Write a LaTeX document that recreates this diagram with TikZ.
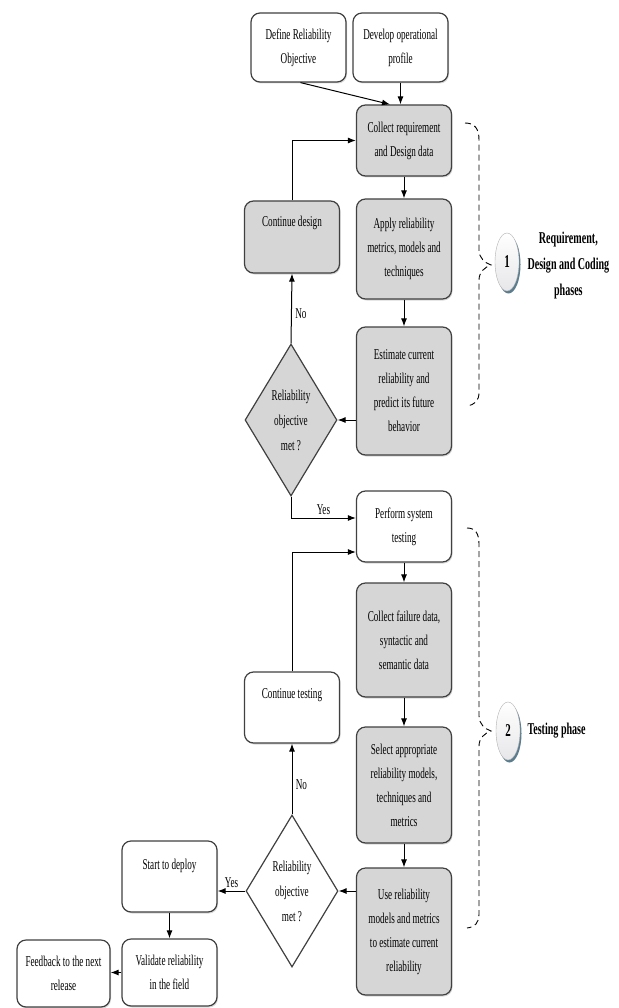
\documentclass[tikz,border=0pt]{standalone}
\usepackage{fontspec}
\setmainfont[FakeStretch=0.61]{Liberation Serif}
\usetikzlibrary{arrows.meta,calc,positioning,shapes.geometric,shadows}
\colorlet{boxgray}{black!16}
\colorlet{boxline}{black!75}
\colorlet{phaselight}{blue!6!gray!18}
\colorlet{phaserim}{cyan!45!black}

\begin{document}
\begin{tikzpicture}[x=1pt,y=-1pt,>={Latex[length=8pt,width=6pt]},
  box/.style={draw=boxline,line width=1.2pt,rounded corners=9pt,align=center,inner sep=0pt,
    font={\fontsize{15}{24}\selectfont},minimum width=95pt,
    drop shadow={opacity=0.3,shadow xshift=1pt,shadow yshift=-1.5pt}},
  graybox/.style={box,fill=boxgray},
  whitebox/.style={box,fill=white},
  decision/.style={diamond,draw=boxline,line width=1.2pt,aspect=0.6,inner sep=0pt,align=center,
    font={\fontsize{15}{25}\selectfont},minimum width=92pt,minimum height=152pt},
  flow/.style={->,line width=1pt},
  lbl/.style={font={\fontsize{15}{24}\selectfont}},
  phasebrace/.style={line width=0.9pt,dash pattern=on 6pt off 4pt},
  phase/.style={ellipse,minimum width=24pt,minimum height=58pt,inner sep=0pt,
    draw=gray!60,top color=white,bottom color=phaselight,
    font={\fontsize{18}{20}\selectfont\bfseries},
    drop shadow={fill=phaserim,opacity=0.9,shadow xshift=1.5pt,shadow yshift=-2.5pt}},
  phasetext/.style={font={\fontsize{16.5}{26}\selectfont\bfseries},align=center,anchor=west}
]
\useasboundingbox (0,0) rectangle (618,1008);

% inputs
\node[whitebox,minimum height=69pt] (def) at (298.5,47.5) {Define Reliability\\Objective};
\node[whitebox,minimum height=69pt] (dev) at (400.5,47.5) {Develop operational\\profile};

% requirement, design and coding phases
\node[graybox,minimum height=71pt] (collreq) at (404,140.5) {Collect requirement\\and Design data};
\node[graybox,minimum height=100pt] (apply) at (404,249) {Apply reliability\\metrics, models and\\techniques};
\node[graybox,minimum height=128pt] (est) at (404,391) {Estimate current\\reliability and\\predict its future\\behavior};
\node[graybox,minimum height=72pt,text height=26pt,text depth=46pt] (contd) at (292,237) {Continue design};
\node[decision,fill=boxgray] (dec1) at (291,420) {Reliability\\objective\\met ?};

% testing phase
\node[whitebox,minimum height=71pt] (perf) at (404,526.5) {Perform system\\testing};
\node[graybox,minimum height=114pt] (collf) at (404,640) {Collect failure data,\\syntactic and\\semantic data};
\node[graybox,minimum height=116pt] (sel) at (404,785) {Select appropriate\\reliability models,\\techniques and\\metrics};
\node[graybox,minimum height=127pt] (use) at (404,931.5) {Use reliability\\models and metrics\\to estimate current\\reliability};
\node[whitebox,minimum height=71pt,text height=26pt,text depth=45pt] (contt) at (292,707.5) {Continue testing};
\node[decision,fill=white] (dec2) at (292,891) {Reliability\\objective\\met ?};

% release
\node[whitebox,minimum height=71pt,text height=28pt,text depth=43pt] (start) at (169.5,876.5) {Start to deploy};
\node[whitebox,minimum height=67pt] (valid) at (169.5,972.5) {Validate reliability\\in the field};
\node[whitebox,minimum height=67pt,minimum width=93pt] (feed) at (63.5,973.5) {Feedback to the next\\release};

% connectors
\draw[flow] ([xshift=2pt]def.south) -- ([xshift=-14pt]collreq.north);
\draw[flow] (dev.south) -- (dev.south |- collreq.north);
\draw[flow] (collreq.south) -- (apply.north);
\draw[flow] (apply.south) -- (est.north);
\draw[flow] (est.west |- dec1.east) -- (dec1.east);
\draw[flow] (dec1.north) -- (contd.south) node[lbl,pos=0.42,right]{No};
\draw[flow] (contd.north) |- (collreq.west);
\draw[flow] (dec1.south) |- ([yshift=8.5pt]perf.west) node[lbl,pos=0.75,above]{Yes};
\draw[flow] (contt.north) |- ([yshift=-25.5pt]perf.west);
\draw[flow] (perf.south) -- (collf.north);
\draw[flow] (collf.south) -- (sel.north);
\draw[flow] (sel.south) -- (use.north);
\draw[flow] (use.west |- dec2.east) -- (dec2.east);
\draw[flow] (dec2.north) -- (contt.south) node[lbl,pos=0.42,right]{No};
\draw[flow] (dec2.west) -- (dec2.west -| start.east) node[lbl,midway,above]{Yes};
\draw[flow] (start.south) -- (valid.north);
\draw[flow] (valid.west) -- (valid.west -| feed.east);

% phase braces and markers
\draw[phasebrace] (465,123) .. controls (475,123) and (479,129) .. (479,140) -- (479,250)
  .. controls (479,258) and (485,263) .. (491,265) .. controls (485,267) and (479,272) .. (479,280)
  -- (479,392) .. controls (479,401) and (475,405) .. (466,406);
\draw[phasebrace] (467,528) .. controls (475,528) and (479,533) .. (479,544) -- (479,716)
  .. controls (479,724) and (485,729) .. (491,731) .. controls (485,733) and (479,738) .. (479,746)
  -- (479,914) .. controls (479,923) and (475,927) .. (467,928);
\node[phase] (ph1) at (507,262) {1};
\node[phasetext] (ph1txt) at (524,266) {Requirement,\\Design and Coding\\phases};
\node[phase] (ph2) at (508,731) {2};
\node[phasetext] (ph2txt) at (524,731) {Testing phase};
\end{tikzpicture}
\end{document}
